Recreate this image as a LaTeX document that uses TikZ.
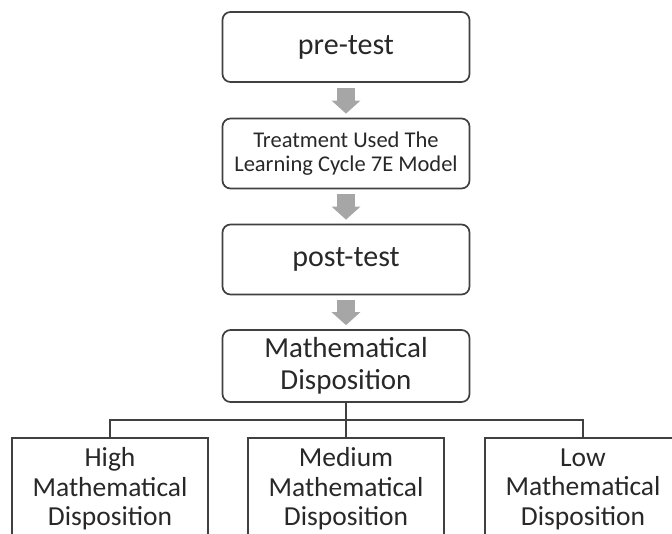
\documentclass[tikz,border=0pt]{standalone}
\usepackage{fontspec}
\setmainfont{Carlito}
\usetikzlibrary{arrows.meta, positioning, calc}
\definecolor{boxline}{RGB}{64, 64, 64}
\definecolor{arrowgray}{RGB}{166, 166, 166}
\definecolor{textdark}{RGB}{40, 40, 40}

\begin{document}
\begin{tikzpicture}[x=1pt, y=-1pt,
  stage/.style={draw=boxline, line width=1.7pt, rounded corners=8pt, minimum width=247pt, minimum height=70pt, inner sep=0pt, align=center, text=textdark},
  level/.style={draw=boxline, line width=1.5pt, minimum width=196pt, minimum height=102pt, inner sep=0pt, align=center, text=textdark, font=\fontsize{27.5}{29.5}\selectfont},
  flow/.style={arrowgray, line width=18pt, -{Triangle[length=13pt, width=28pt]}},
  branch/.style={boxline, line width=1.5pt}]
  \useasboundingbox (0, 0) rectangle (672, 533);
  \clip (0, 0) rectangle (672, 533);

  % TOP: the stages of the study
  \node[stage, font=\fontsize{30}{36}\selectfont] (pre) at (346, 47) {pre-test};
  \node[stage, font=\fontsize{22.5}{24}\selectfont] (treat) at (346, 153.5) {Treatment Used The\\Learning Cycle 7E Model};
  \node[stage, font=\fontsize{30}{36}\selectfont] (post) at (346, 259.5) {post-test};
  \node[stage, minimum height=72pt, font=\fontsize{29}{32}\selectfont] (disp) at (346, 366) {Mathematical\\Disposition};

  % Block arrows between the stages
  \draw[flow] ([yshift=-5pt]pre.south) -- ([yshift=4pt]treat.north);
  \draw[flow] ([yshift=-5pt]treat.south) -- ([yshift=4pt]post.north);
  \draw[flow] ([yshift=-5pt]post.south) -- ([yshift=4pt]disp.north);

  % BOTTOM: the three levels
  \node[level] (high) at (110, 489) {High\\Mathematical\\Disposition};
  \node[level] (medium) at (346, 489) {Medium\\Mathematical\\Disposition};
  \node[level] (low) at (583, 489) {Low\\Mathematical\\Disposition};

  % Tree lines
  \coordinate (split) at (disp.south |- 0, 420);
  \draw[branch] (disp.south) -- (split);
  \draw[branch] (split) -| (high.north);
  \draw[branch] (split) -- (medium.north);
  \draw[branch] (split) -| (low.north);
\end{tikzpicture}
\end{document}
